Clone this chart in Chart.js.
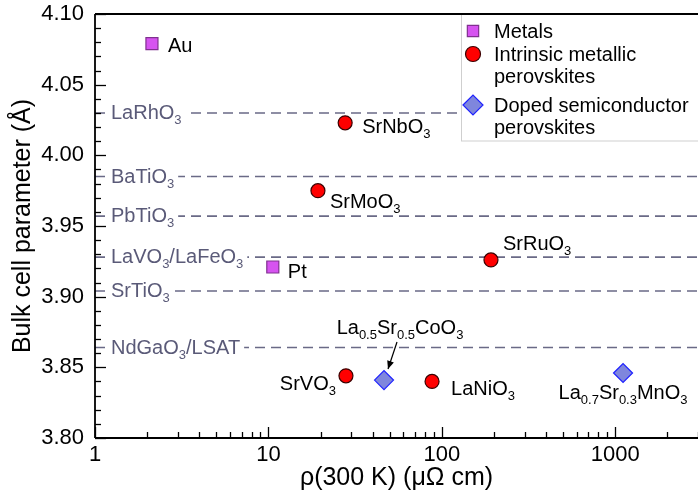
<!DOCTYPE html>
<html><head><meta charset="utf-8">
<script src="https://cdn.jsdelivr.net/npm/chart.js@4"></script>
<style>html,body{margin:0;padding:0;background:#fff;}#wrap{width:698px;height:498px;}</style>
</head><body><div id="wrap"><canvas id="c" width="698" height="498"></canvas></div>
<script>
// ---------- data ----------
const metalNames = ['Au', 'Pt'];
const metalRho = [2.13, 10.6];
const metalA = [4.079, 3.921];

const intrinsicNames = ['SrNbO_{3}', 'SrMoO_{3}', 'SrRuO_{3}', 'SrVO_{3}', 'LaNiO_{3}'];
const intrinsicRho = [27.7, 19.3, 192, 28, 87.8];
const intrinsicA = [4.023, 3.975, 3.926, 3.844, 3.840];

const dopedNames = ['La_{0.5}Sr_{0.5}CoO_{3}', 'La_{0.7}Sr_{0.3}MnO_{3}'];
const dopedRho = [46.4, 1109];
const dopedA = [3.841, 3.846];

const substrateNames = ['LaRhO_{3}', 'BaTiO_{3}', 'PbTiO_{3}', 'LaVO_{3}/LaFeO_{3}', 'SrTiO_{3}', 'NdGaO_{3}/LSAT'];
const substrateA = [4.030, 3.985, 3.957, 3.928, 3.904, 3.864];

const seriesNames = ['Metals', 'Intrinsic metallic\nperovskites', 'Doped semiconductor\nperovskites'];
const xRange = [1, 3000];
const yRange = [3.80, 4.10];
const xTitle = 'ρ(300 K) (μΩ cm)';
const yTitle = 'Bulk cell parameter (Å)';

// ---------- styles ----------
const FONT = '"Liberation Sans", Arial, Helvetica, sans-serif';
const refColor = '#6a6a86';
const refTextColor = '#5a5a78';
const seriesStyle = [
  {pointStyle: 'rect', radius: 8.5, bg: '#d653f0', border: '#80308f'},
  {pointStyle: 'circle', radius: 7, bg: '#ff0000', border: '#3a0000'},
  {pointStyle: 'rectRot', radius: 9.5, bg: '#7f86dd', border: '#1f22ff'}
];
// label placement relative to the marker (pixels)
const labelPlace = {
  'Au': {dx: 16, dy: 1, align: 'left'},
  'Pt': {dx: 15, dy: 4, align: 'left'},
  'SrNbO_{3}': {dx: 17, dy: 3.5, align: 'left'},
  'SrMoO_{3}': {dx: 12, dy: 10, align: 'left'},
  'SrRuO_{3}': {dx: 12, dy: -17, align: 'left'},
  'SrVO_{3}': {dx: -10, dy: 7, align: 'right'},
  'LaNiO_{3}': {dx: 19, dy: 6, align: 'left'},
  'La_{0.5}Sr_{0.5}CoO_{3}': {dx: 16, dy: -53, align: 'center', arrow: [13, -38, 4, -11]},
  'La_{0.7}Sr_{0.3}MnO_{3}': {dx: 0, dy: 19, align: 'center'}
};

function toPts(xs, ys) { return xs.map((x, i) => ({x: x, y: ys[i]})); }

function parseRich(s) {
  const parts = []; const re = /_\{([^}]*)\}/g; let last = 0, m;
  while ((m = re.exec(s))) {
    if (m.index > last) parts.push({t: s.slice(last, m.index), sub: false});
    parts.push({t: m[1], sub: true}); last = re.lastIndex;
  }
  if (last < s.length) parts.push({t: s.slice(last), sub: false});
  return parts;
}
function drawRich(ctx, s, x, capMid, size, align, color, bg) {
  const parts = parseRich(s);
  const subSize = Math.round(size * 0.65);
  let w = 0;
  for (const p of parts) { ctx.font = (p.sub ? subSize : size) + 'px ' + FONT; w += ctx.measureText(p.t).width; }
  let cx = align === 'left' ? x : (align === 'right' ? x - w : x - w / 2);
  const baseline = capMid + size * 0.358;
  if (bg) { ctx.fillStyle = bg; ctx.fillRect(cx - 3, capMid - size * 0.55, w + 7, size * 1.15); }
  ctx.fillStyle = color; ctx.textAlign = 'left'; ctx.textBaseline = 'alphabetic';
  for (const p of parts) {
    const fs = p.sub ? subSize : size;
    ctx.font = fs + 'px ' + FONT;
    ctx.fillText(p.t, cx, baseline + (p.sub ? size * 0.25 : 0));
    cx += ctx.measureText(p.t).width;
  }
}
function drawMarker(ctx, st, x, y, r) {
  ctx.save();
  ctx.fillStyle = st.bg; ctx.strokeStyle = st.border; ctx.lineWidth = 1.2;
  ctx.beginPath();
  if (st.pointStyle === 'rect') { const s = r * Math.SQRT1_2; ctx.rect(x - s, y - s, 2 * s, 2 * s); }
  else if (st.pointStyle === 'circle') { ctx.arc(x, y, r, 0, Math.PI * 2); }
  else { ctx.moveTo(x - r, y); ctx.lineTo(x, y - r); ctx.lineTo(x + r, y); ctx.lineTo(x, y + r); ctx.closePath(); }
  ctx.fill(); ctx.stroke(); ctx.restore();
}
function isIntMantissa(v) {
  const m = v / Math.pow(10, Math.floor(Math.log10(v) + 1e-9));
  return Math.abs(m - Math.round(m)) < 1e-6;
}
function isDecade(v) { const lg = Math.log10(v); return Math.abs(lg - Math.round(lg)) < 1e-9; }

const datasets = [];
const groups = [[metalNames, metalRho, metalA], [intrinsicNames, intrinsicRho, intrinsicA], [dopedNames, dopedRho, dopedA]];
groups.forEach((g, i) => {
  const st = seriesStyle[i];
  datasets.push({
    label: seriesNames[i], type: 'scatter', data: toPts(g[1], g[2]), names: g[0],
    pointStyle: st.pointStyle, pointRadius: st.radius, pointHoverRadius: st.radius,
    backgroundColor: st.bg, borderColor: st.border, pointBorderWidth: 1.2, order: 0, clip: false
  });
});
substrateA.forEach((a, i) => {
  datasets.push({
    label: substrateNames[i], type: 'line', data: [{x: xRange[0], y: a}, {x: xRange[1], y: a}],
    borderColor: refColor, borderWidth: 1.6, borderDash: [10, 6], pointRadius: 0, showLine: true,
    fill: false, order: 10
  });
});

const overlay = {
  id: 'overlay',
  afterDatasetsDraw(chart) {
    const ctx = chart.ctx, xs = chart.scales.x, ys = chart.scales.y, area = chart.chartArea;
    ctx.save();
    // reference labels
    substrateA.forEach((a, i) => {
      const py = ys.getPixelForValue(a);
      drawRich(ctx, substrateNames[i], area.left + 16, py - 1, 20, 'left', refTextColor, '#ffffff');
    });
    // point labels
    chart.data.datasets.forEach(ds => {
      if (!ds.names) return;
      ds.data.forEach((p, j) => {
        const name = ds.names[j], pl = labelPlace[name];
        const px = xs.getPixelForValue(p.x), py = ys.getPixelForValue(p.y);
        drawRich(ctx, name, px + pl.dx, py + pl.dy, 20, pl.align, '#000000');
        if (pl.arrow) {
          const x1 = px + pl.arrow[0], y1 = py + pl.arrow[1], x2 = px + pl.arrow[2], y2 = py + pl.arrow[3];
          ctx.strokeStyle = '#000'; ctx.lineWidth = 1.2;
          ctx.beginPath(); ctx.moveTo(x1, y1); ctx.lineTo(x2, y2); ctx.stroke();
          const ang = Math.atan2(y2 - y1, x2 - x1), L = 8, W = 3.5;
          ctx.fillStyle = '#000'; ctx.beginPath(); ctx.moveTo(x2, y2);
          ctx.lineTo(x2 - L * Math.cos(ang) + W * Math.sin(ang), y2 - L * Math.sin(ang) - W * Math.cos(ang));
          ctx.lineTo(x2 - L * Math.cos(ang) - W * Math.sin(ang), y2 - L * Math.sin(ang) + W * Math.cos(ang));
          ctx.closePath(); ctx.fill();
        }
      });
    });
    // legend
    const lx = 461, ly = area.top, lw = 260, lh = 127;
    ctx.fillStyle = '#ffffff'; ctx.fillRect(lx, ly, lw, lh);
    ctx.strokeStyle = '#cfcfcf'; ctx.lineWidth = 1; ctx.strokeRect(lx + 0.5, ly + 0.5, lw, lh - 0.5);
    const rows = [[17, 23], [40, 22], [91, 22]];
    seriesNames.forEach((n, i) => {
      const yy = ly + rows[i][0];
      const st = seriesStyle[i];
      drawMarker(ctx, st, 473, yy, i === 0 ? 8 : (i === 1 ? 7.5 : 10));
      n.split('\n').forEach((line, k) => {
        drawRich(ctx, line, 494, yy + k * rows[i][1], 20, 'left', '#000000');
      });
    });
    // inward tick marks
    ctx.strokeStyle = '#000'; ctx.lineWidth = 1.3;
    ys.ticks.forEach(t => {
      const py = Math.round(ys.getPixelForValue(t.value)) + 0.5;
      const major = Math.round(t.value * 100) % 5 === 0;
      ctx.beginPath(); ctx.moveTo(area.left, py); ctx.lineTo(area.left + (major ? 11 : 6), py); ctx.stroke();
    });
    xs.ticks.forEach(t => {
      if (!isIntMantissa(t.value)) return;
      const px = Math.round(xs.getPixelForValue(t.value)) + 0.5;
      const major = isDecade(t.value);
      ctx.beginPath(); ctx.moveTo(px, area.bottom); ctx.lineTo(px, area.bottom - (major ? 11 : 6)); ctx.stroke();
    });
    // axis frame (left, bottom, top)
    ctx.lineWidth = 1.8; ctx.strokeStyle = '#000';
    ctx.beginPath();
    ctx.moveTo(area.left, area.top); ctx.lineTo(chart.width, area.top);
    ctx.moveTo(area.left, area.top); ctx.lineTo(area.left, area.bottom);
    ctx.moveTo(area.left, area.bottom); ctx.lineTo(chart.width, area.bottom);
    ctx.stroke();
    ctx.restore();
  }
};

new Chart(document.getElementById('c'), {
  type: 'scatter',
  data: {datasets: datasets},
  options: {
    responsive: false, animation: false, devicePixelRatio: 1,
    layout: {autoPadding: false, padding: {top: 14, right: 0, left: 0, bottom: 0}},
    plugins: {legend: {display: false}, tooltip: {enabled: false}},
    scales: {
      x: {
        type: 'logarithmic', min: xRange[0], max: xRange[1],
        grid: {display: false, drawTicks: false},
        border: {display: false},
        ticks: {
          autoSkip: false, maxRotation: 0, padding: 4, color: '#000',
          font: {family: FONT, size: 22},
          callback: function (v) { return isDecade(v) ? String(Math.round(v)) : ''; }
        },
        title: {display: true, text: xTitle, color: '#000', font: {family: FONT, size: 25}, padding: {top: 0, bottom: 5}},
        afterFit: s => { s.height = 60; s.paddingLeft = 0; s.paddingRight = 0; }
      },
      y: {
        min: yRange[0], max: yRange[1],
        grid: {display: false, drawTicks: false},
        border: {display: false},
        ticks: {
          stepSize: 0.01, autoSkip: false, padding: 11, color: '#000',
          font: {family: FONT, size: 22},
          callback: function (v) { return Math.round(v * 100) % 5 === 0 ? v.toFixed(2) : ''; }
        },
        title: {display: true, text: yTitle, color: '#000', font: {family: FONT, size: 25}, padding: {top: 8, bottom: 0}},
        afterFit: s => { s.width = 95; s.paddingTop = 0; s.paddingBottom = 0; }
      }
    }
  },
  plugins: [overlay]
});
</script>
</body></html>
